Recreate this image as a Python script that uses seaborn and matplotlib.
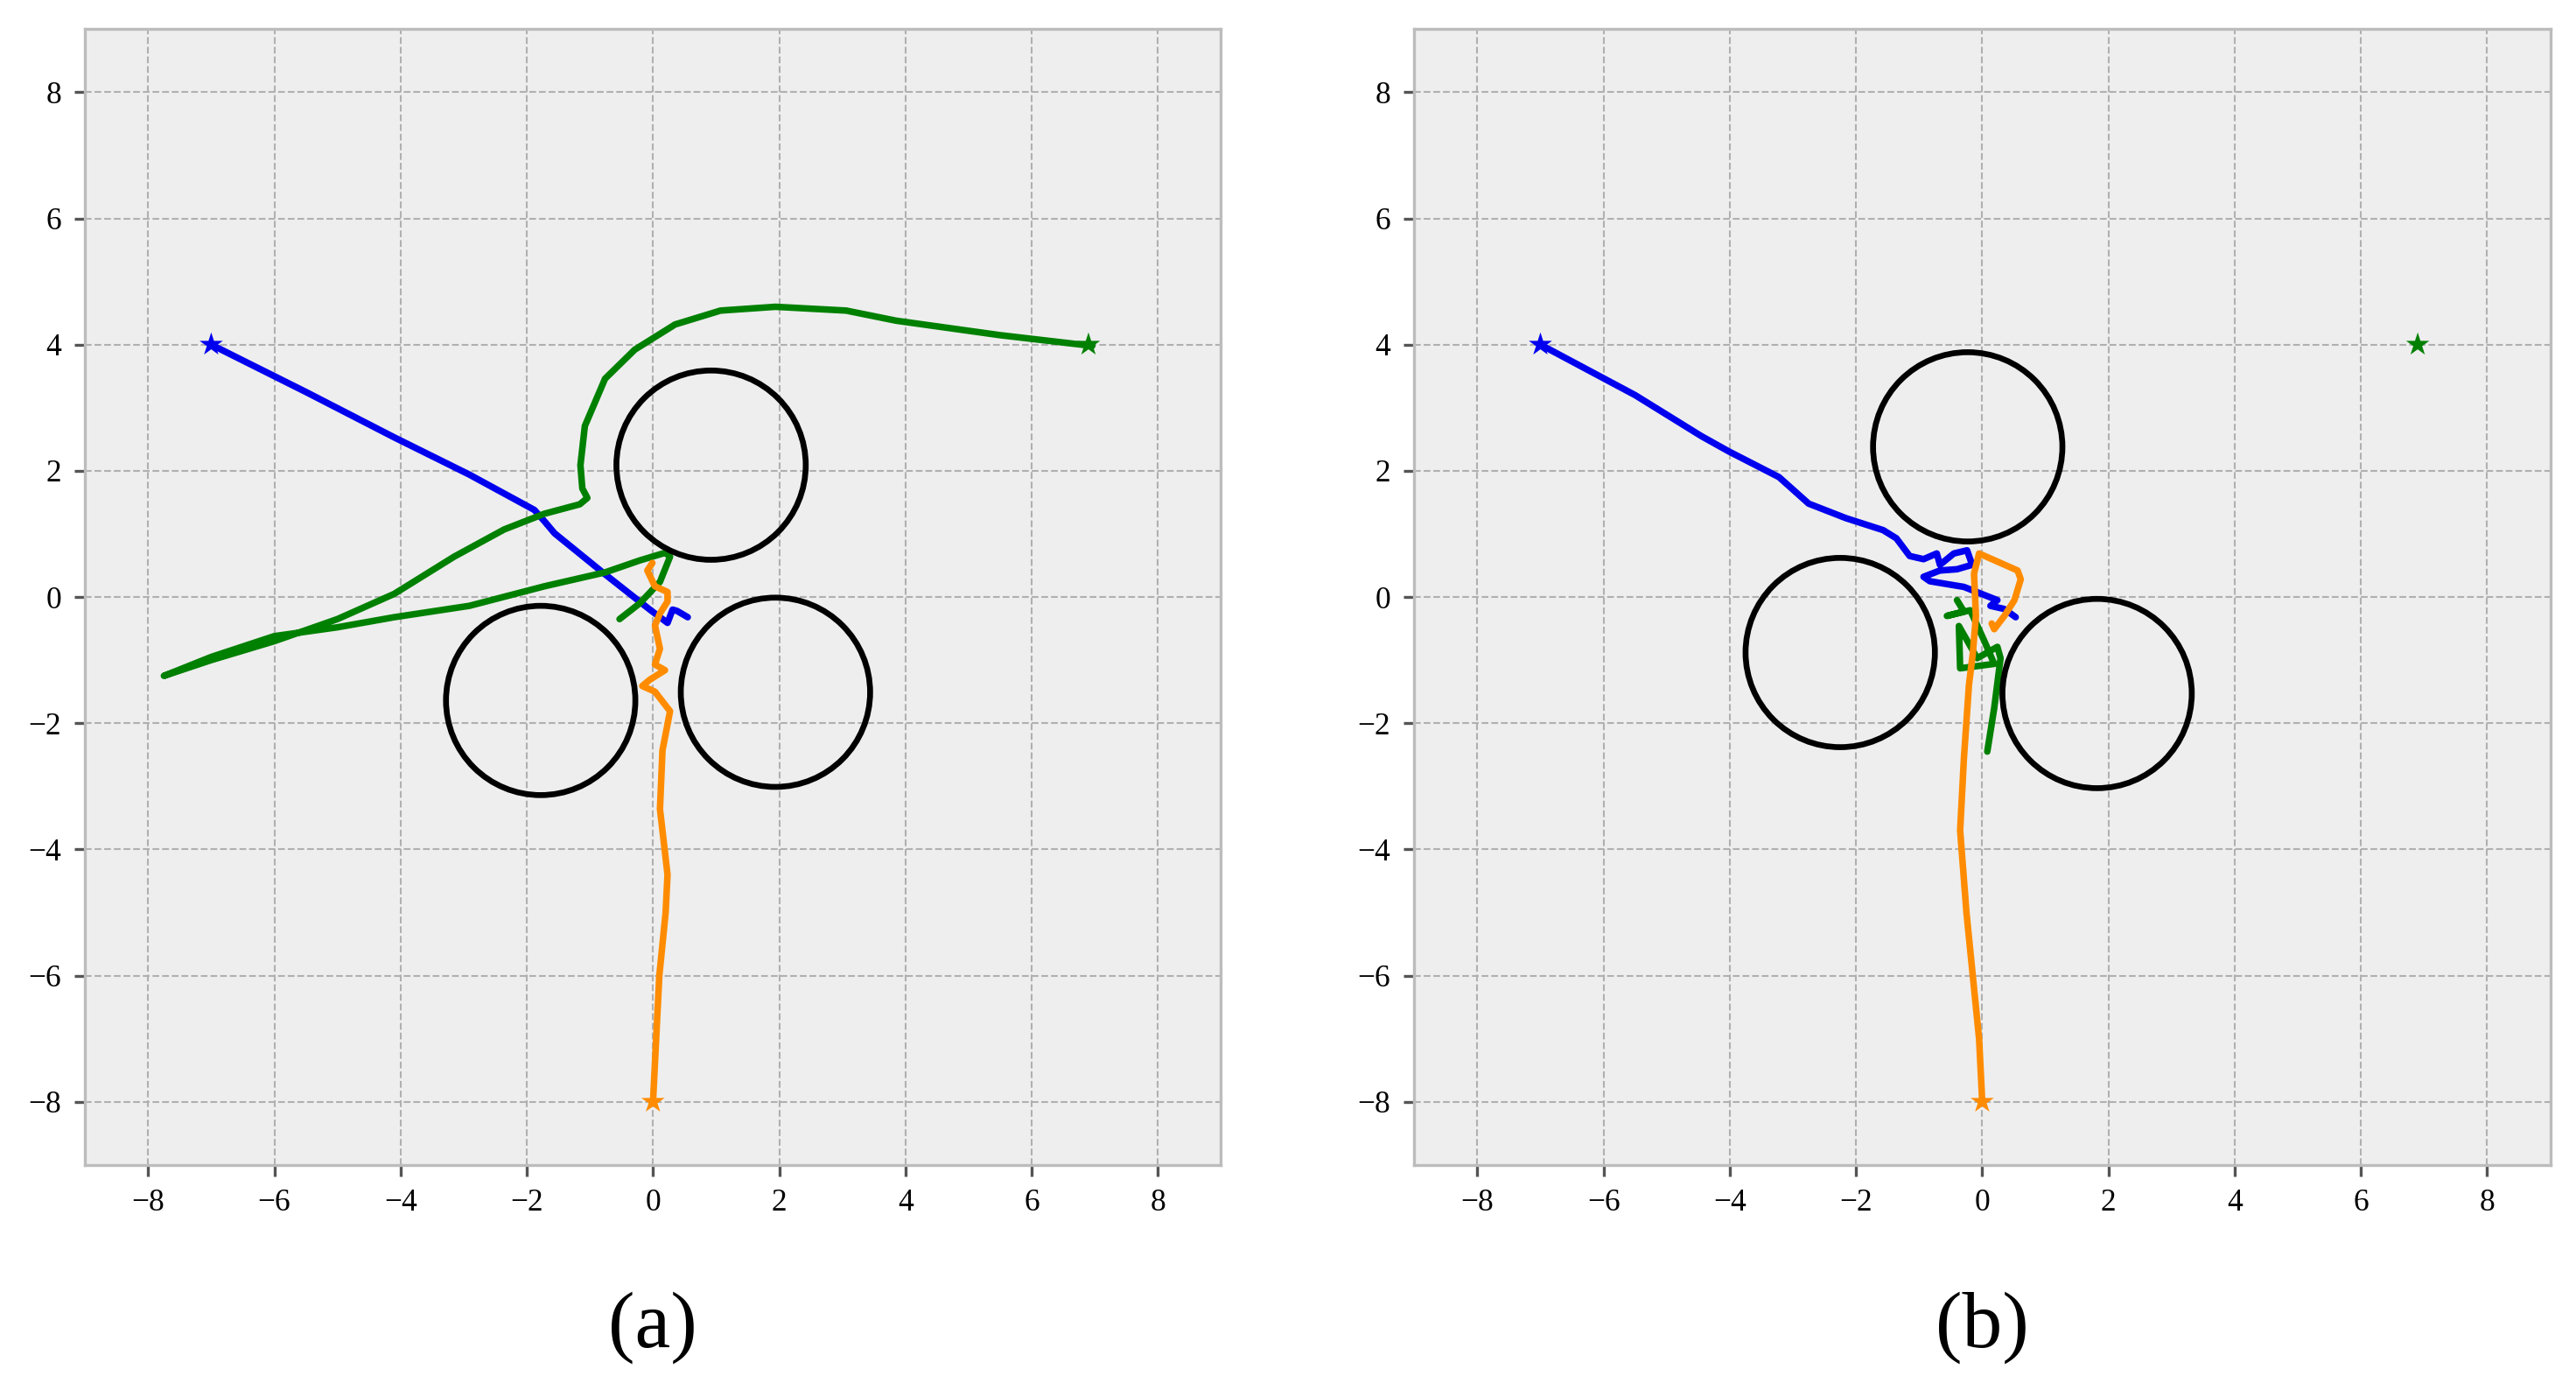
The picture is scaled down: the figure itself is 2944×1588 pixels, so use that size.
import numpy as np
import pandas as pd
import matplotlib
matplotlib.use("Agg")
import matplotlib.pyplot as plt
import seaborn as sns
from matplotlib.patches import Circle

# ---- data: panel (a) ----
a_blue_x = [-7, -5.5, -4.1, -2.91, -1.88, -1.72, -1.56, -0.76, -0.05, 0.23, 0.31, 0.38, 0.55]
a_blue_y = [4, 3.25, 2.53, 1.94, 1.38, 1.2, 1.01, 0.36, -0.2, -0.41, -0.2, -0.22, -0.32]
a_green_x = [6.96, 5.5, 3.85, 3.06, 1.94, 1.07, 0.35, -0.29, -0.76, -1.08, -1.15, -1.12, -1.04, -1.16, -1.72,
             -2.36, -3.15, -4.1, -5, -6, -7, -7.75, -7, -6, -5, -4.1, -2.91, -1.72, -0.76, -0.21, 0.19, 0.27,
             0.11, -0.21, -0.53]
a_green_y = [3.98, 4.15, 4.38, 4.54, 4.6, 4.54, 4.32, 3.92, 3.46, 2.71, 2.09, 1.72, 1.57, 1.47, 1.32,
             1.07, 0.64, 0.05, -0.35, -0.7, -1.0, -1.25, -0.95, -0.62, -0.48, -0.32, -0.14, 0.17, 0.39, 0.58,
             0.7, 0.64, 0.24, -0.1, -0.35]
a_orange_x = [0, 0.05, 0.1, 0.2, 0.23, 0.11, 0.15, 0.27, 0.03, -0.17, -0.05, 0.19, 0.03, 0.11, 0.03, 0.11,
              0.23, 0.23, 0.03, -0.09, -0.01]
a_orange_y = [-8, -7, -6, -5, -4.4, -3.36, -2.43, -1.81, -1.5, -1.41, -1.31, -1.16, -1.07, -0.82, -0.45,
              -0.26, -0.07, 0.08, 0.17, 0.42, 0.54]
a_obst_x = [0.92, -1.78, 1.94]
a_obst_y = [2.09, -1.64, -1.51]

# ---- data: panel (b) ----
b_blue_x = [-7, -5.5, -4.45, -4.02, -3.22, -2.75, -2.16, -1.57, -1.36, -1.15, -0.93, -0.72, -0.67, -0.45,
            -0.24, -0.16, -0.4, -0.67, -0.93, -0.83, -0.29, 0.24, 0.13, 0.35, 0.53]
b_blue_y = [4, 3.2, 2.55, 2.31, 1.9, 1.48, 1.25, 1.06, 0.93, 0.65, 0.6, 0.69, 0.51, 0.69,
            0.74, 0.51, 0.44, 0.42, 0.32, 0.25, 0.16, -0.05, -0.14, -0.19, -0.32]
b_orange_x = [0, -0.05, -0.15, -0.25, -0.35, -0.29, -0.21, -0.15, -0.1, -0.13, -0.05, 0.56, 0.61, 0.51,
              0.35, 0.19, 0.15]
b_orange_y = [-8, -7, -6, -5, -3.7, -2.55, -1.39, -0.9, -0.3, 0.37, 0.69, 0.42, 0.28, -0.05,
              -0.3, -0.51, -0.42]
b_green_x = [-0.4, -0.29, -0.56, -0.19, 0.03, 0.19, -0.35, -0.37, -0.08, 0.24, 0.29, 0.19, 0.08]
b_green_y = [-0.05, -0.23, -0.3, -0.21, -0.69, -1.06, -1.13, -0.46, -0.97, -0.79, -0.97, -1.76, -2.45]
b_obst_x = [-0.23, -2.25, 1.82]
b_obst_y = [2.38, -0.88, -1.53]

radius = 1.5
starts_x = [-7, 0, 6.9]
starts_y = [4, -8, 4]
start_colors = ["#0000ee", "#ff8c00", "#008000"]
ticks = [-8, -6, -4, -2, 0, 2, 4, 6, 8]

sns.set_style("whitegrid", {"axes.facecolor": "#eeeeee", "grid.color": "#b0b0b0",
                            "grid.linestyle": "--", "axes.edgecolor": "#bcbcbc"})
plt.rcParams['font.family'] = ['Liberation Serif', 'DejaVu Serif']
plt.rcParams['text.color'] = 'black'
plt.rcParams['xtick.color'] = 'black'
plt.rcParams['ytick.color'] = 'black'

fig = plt.figure(figsize=(2944 / 300, 1588 / 300), dpi=300)
axA = fig.add_axes([0.033, 0.162, 0.441, 0.817])
axB = fig.add_axes([0.549, 0.162, 0.441, 0.817])

def draw(ax, series, ox, oy, label):
    for xs, ys, c in series:
        df = pd.DataFrame({"x": xs, "y": ys})
        sns.lineplot(data=df, x="x", y="y", ax=ax, sort=False, estimator=None, color=c, lw=1.8)
    for cx, cy in zip(ox, oy):
        ax.add_patch(Circle((cx, cy), radius, fill=False, ec="black", lw=1.6, zorder=3))
    sdf = pd.DataFrame({"x": starts_x, "y": starts_y, "c": start_colors})
    sns.scatterplot(data=sdf, x="x", y="y", hue="c", palette={c: c for c in start_colors},
                    marker="*", s=45, ax=ax, legend=False, linewidth=0, zorder=4)
    ax.set_xlim(-9, 9)
    ax.set_ylim(-9, 9)
    ax.set_xticks(ticks)
    ax.set_yticks(ticks)
    ax.set_xlabel("")
    ax.set_ylabel("")
    ax.tick_params(labelsize=8.5, length=3, color="#555555", direction="out", left=True, bottom=True)
    ax.grid(True, linestyle="--", linewidth=0.5, color="#b0b0b0")
    for s in ax.spines.values():
        s.set_linewidth(0.8)
        s.set_color("#bcbcbc")
    pos = ax.get_position()
    fig.text((pos.x0 + pos.x1) / 2, 0.045, label, ha="center", va="center", fontsize=22)

draw(axA, [(a_blue_x, a_blue_y, "#0000ee"), (a_green_x, a_green_y, "#008000"),
           (a_orange_x, a_orange_y, "#ff8c00")], a_obst_x, a_obst_y, "(a)")
draw(axB, [(b_blue_x, b_blue_y, "#0000ee"), (b_green_x, b_green_y, "#008000"),
           (b_orange_x, b_orange_y, "#ff8c00")], b_obst_x, b_obst_y, "(b)")

fig.savefig("out.png", dpi=300)
